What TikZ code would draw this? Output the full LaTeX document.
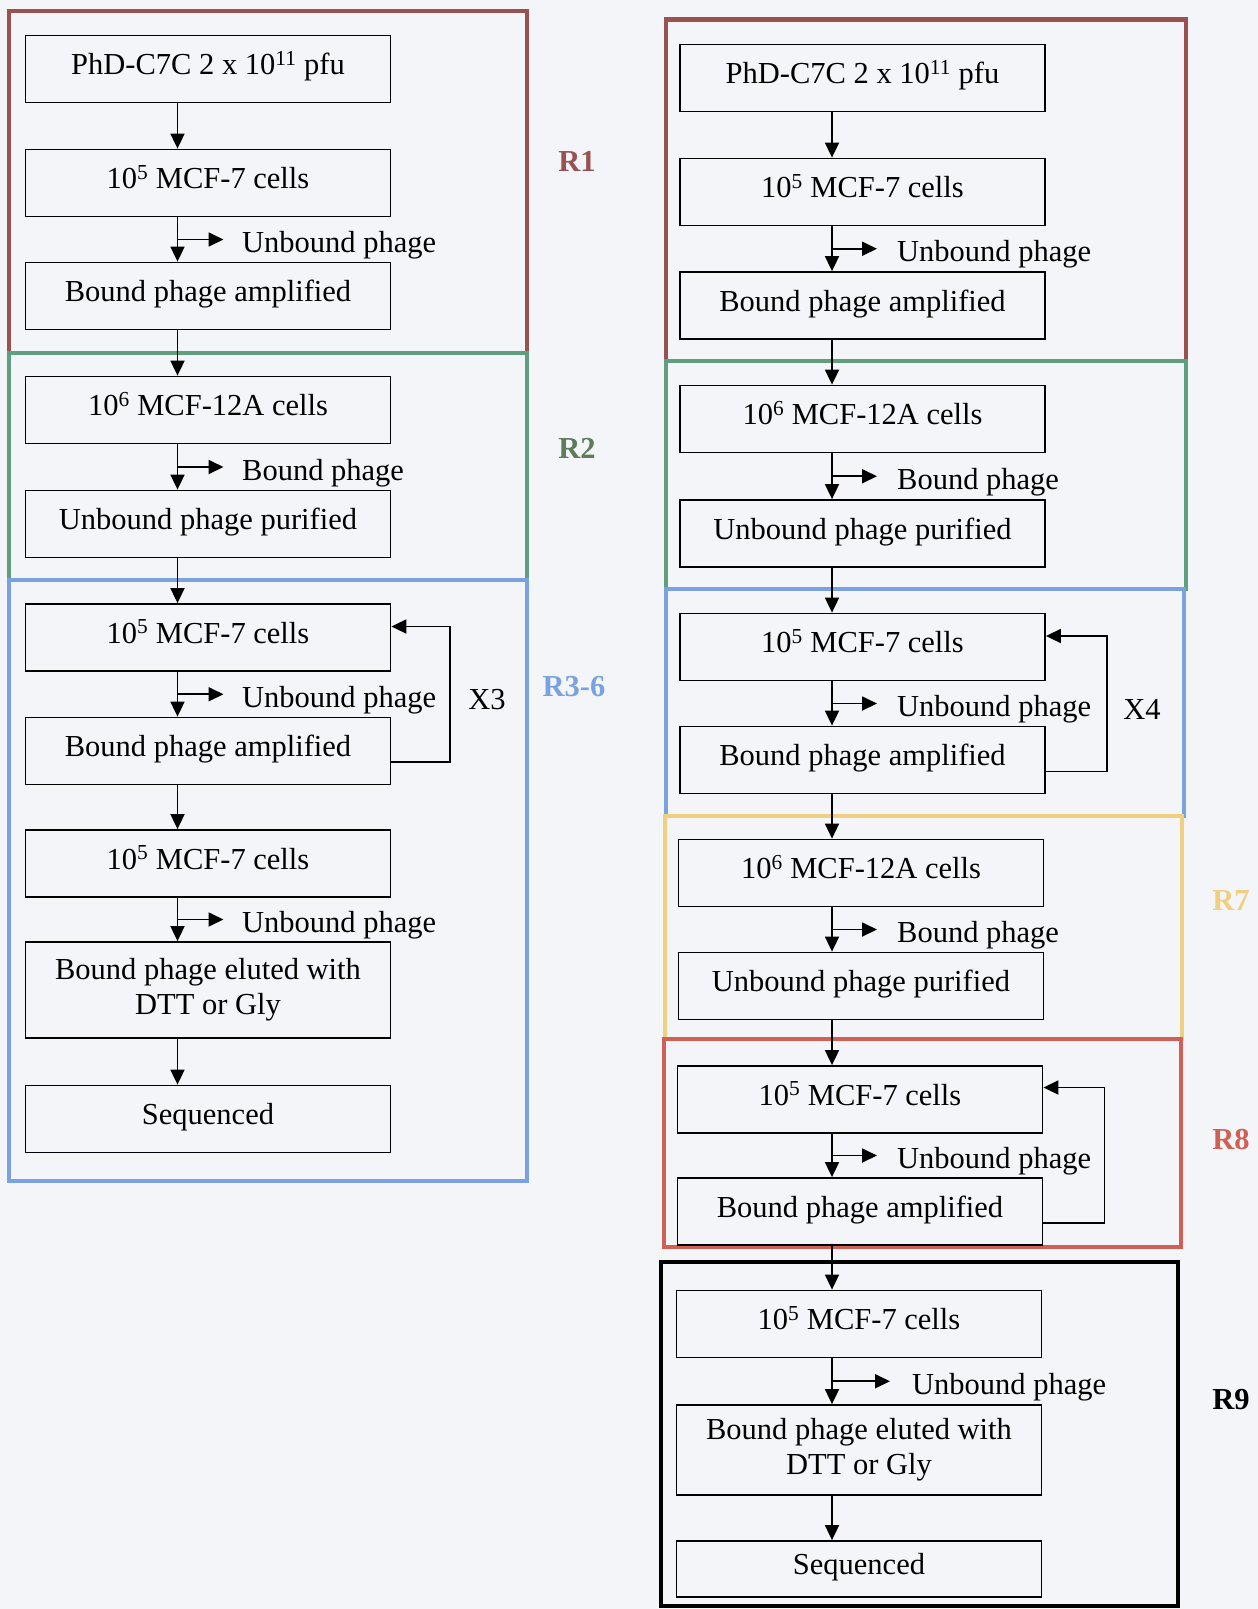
\documentclass[tikz,border=0pt]{standalone}
\usepackage{fontspec}
\setmainfont{Liberation Serif}
\usetikzlibrary{arrows.meta,calc}

\definecolor{bgcol}{RGB}{244,245,249}
\definecolor{rone}{RGB}{154,82,80}
\definecolor{rtwo}{RGB}{96,158,128}
\definecolor{rtwotag}{RGB}{92,124,90}
\definecolor{rthree}{RGB}{122,162,224}
\definecolor{rseven}{RGB}{240,208,128}
\definecolor{reight}{RGB}{206,96,86}

\begin{document}
\begin{tikzpicture}
  [x=1pt,y=-1pt,
   box/.style={rectangle,draw=black,line width=1.8pt,minimum width=365pt,
     minimum height=67pt,inner sep=0pt,align=center,
     font=\fontsize{30.5}{35}\selectfont},
   onebox/.style={box,text height=21pt,text depth=10pt},
   side/.style={anchor=base west,inner sep=0pt,font=\fontsize{30.5}{35}\selectfont},
   tag/.style={inner sep=0pt,font=\fontsize{30.5}{35}\selectfont\bfseries},
   frame/.style={line width=4.5pt},
   arr/.style={-{Triangle[length=15pt,width=14pt]},line width=1.8pt}]

  \fill[bgcol] (0,0) rectangle (1258,1609);
  \useasboundingbox (0,0) rectangle (1258,1609);

  % round frames
  \draw[frame,rone] (9,11) rectangle (527,353);
  \draw[frame,rtwo] (9,353) rectangle (527,580);
  \draw[frame,rthree] (9,580) rectangle (527,1181);

  \draw[frame,rone] (666,19.5) rectangle (1186,361);
  \draw[frame,rtwo] (666,361) rectangle (1186,589);
  \draw[frame,rthree] (666,589) rectangle (1184,816);
  \draw[frame,rseven] (665,816) rectangle (1182,1039);
  \draw[frame,reight] (664,1039) rectangle (1181,1247);
  \draw[frame,black] (661,1262) rectangle (1178,1606);

  \node[tag,rone] (t1) at (577,161) {R1};
  \node[tag,rtwotag] (t2) at (577,448) {R2};
  \node[tag,rthree] (t3) at (574,687) {R3-6};
  \node[tag,rseven] (t7) at (1231,901) {R7};
  \node[tag,reight] (t8) at (1231,1139) {R8};
  \node[tag,black] (t9) at (1231,1400) {R9};

  % left column
  \node[onebox] (l1) at (208,69) {PhD-C7C 2 x 10\textsuperscript{11} pfu};
  \node[onebox] (l2) at (208,183) {10\textsuperscript{5} MCF-7 cells};
  \node[onebox] (l3) at (208,296) {Bound phage amplified};
  \node[onebox] (l4) at (208,410) {10\textsuperscript{6} MCF-12A cells};
  \node[onebox] (l5) at (208,524) {Unbound phage purified};
  \node[onebox] (l6) at (208,637.5) {10\textsuperscript{5} MCF-7 cells};
  \node[onebox] (l7) at (208,751) {Bound phage amplified};
  \node[onebox] (l8) at (208,863.5) {10\textsuperscript{5} MCF-7 cells};
  \node[box,minimum height=96pt] (l9) at (208,990) {Bound phage eluted with\\DTT or Gly};
  \node[onebox] (l10) at (208,1119) {Sequenced};

  % right column
  \node[onebox] (r1) at (862.5,78) {PhD-C7C 2 x 10\textsuperscript{11} pfu};
  \node[onebox] (r2) at (862.5,192) {10\textsuperscript{5} MCF-7 cells};
  \node[onebox] (r3) at (862.5,305.5) {Bound phage amplified};
  \node[onebox] (r4) at (862.5,419) {10\textsuperscript{6} MCF-12A cells};
  \node[onebox] (r5) at (862.5,533.5) {Unbound phage purified};
  \node[onebox] (r6) at (862.5,647) {10\textsuperscript{5} MCF-7 cells};
  \node[onebox] (r7) at (862.5,760) {Bound phage amplified};
  \node[onebox] (r8) at (861,873) {10\textsuperscript{6} MCF-12A cells};
  \node[onebox] (r9) at (861,986) {Unbound phage purified};
  \node[onebox] (r10) at (860,1099.5) {10\textsuperscript{5} MCF-7 cells};
  \node[onebox] (r11) at (860,1211.5) {Bound phage amplified};
  \node[onebox] (r12) at (859,1324) {10\textsuperscript{5} MCF-7 cells};
  \node[box,minimum height=90pt] (r13) at (859,1450) {Bound phage eluted with\\DTT or Gly};
  \node[onebox,minimum height=56pt] (r14) at (859,1569) {Sequenced};

  \coordinate (ls) at (177.5,0);
  \coordinate (rs) at (832,0);

  \foreach \from/\to in {l1/l2,l2/l3,l3/l4,l4/l5,l5/l6,l6/l7,l7/l8,l8/l9,l9/l10}
    \draw[arr] (\from.south -| ls) -- (\to.north -| ls);

  \foreach \from/\to in {r1/r2,r2/r3,r3/r4,r4/r5,r5/r6,r6/r7,r7/r8,r8/r9,r9/r10,
      r10/r11,r11/r12,r12/r13,r13/r14}
    \draw[arr] (\from.south -| rs) -- (\to.north -| rs);

  % phage sent aside
  \foreach \a/\b/\n/\t in {l2/l3/la/Unbound phage,l4/l5/lb/Bound phage,
      l6/l7/lc/Unbound phage,l8/l9/ld/Unbound phage}{
    \coordinate (\n) at ($(\a.south -| ls)!.5!(\b.north -| ls)$);
    \coordinate (\n e) at ([xshift=46pt]\n);
    \draw[arr] (\n) -- (\n e);
    \node[side] (\n t) at ([xshift=64.5pt,yshift=-13pt]\n) {\t};
  }
  \foreach \a/\b/\n/\t in {r2/r3/ra/Unbound phage,r4/r5/rb/Bound phage,
      r6/r7/rc/Unbound phage,r8/r9/rd/Bound phage,r10/r11/re/Unbound phage}{
    \coordinate (\n) at ($(\a.south -| rs)!.5!(\b.north -| rs)$);
    \coordinate (\n e) at ([xshift=45pt]\n);
    \draw[arr] (\n) -- (\n e);
    \node[side] (\n t) at ([xshift=65pt,yshift=-13pt]\n) {\t};
  }
  \coordinate (rf) at ($(r12.south -| rs)!.5!(r13.north -| rs)$);
  \coordinate (rfe) at ([xshift=58pt]rf);
  \draw[arr] (rf) -- (rfe);
  \node[side] (rft) at ([xshift=80pt,yshift=-13pt]rf) {Unbound phage};

  % repeats
  \draw[arr] ([yshift=-11pt]l7.east) -- ++(58.5,0) |- ([yshift=11pt]l6.east);
  \node[tag,font=\fontsize{30.5}{35}\selectfont] (x3) at (487,700) {X3};
  \draw[arr] ([yshift=-11.5pt]r7.east) -- ++(61,0) |- ([yshift=11pt]r6.east);
  \node[tag,font=\fontsize{30.5}{35}\selectfont] (x4) at (1142,709) {X4};
  \draw[arr] ([yshift=-11.5pt]r11.east) -- ++(61,0) |- ([yshift=12pt]r10.east);

\end{tikzpicture}
\end{document}
